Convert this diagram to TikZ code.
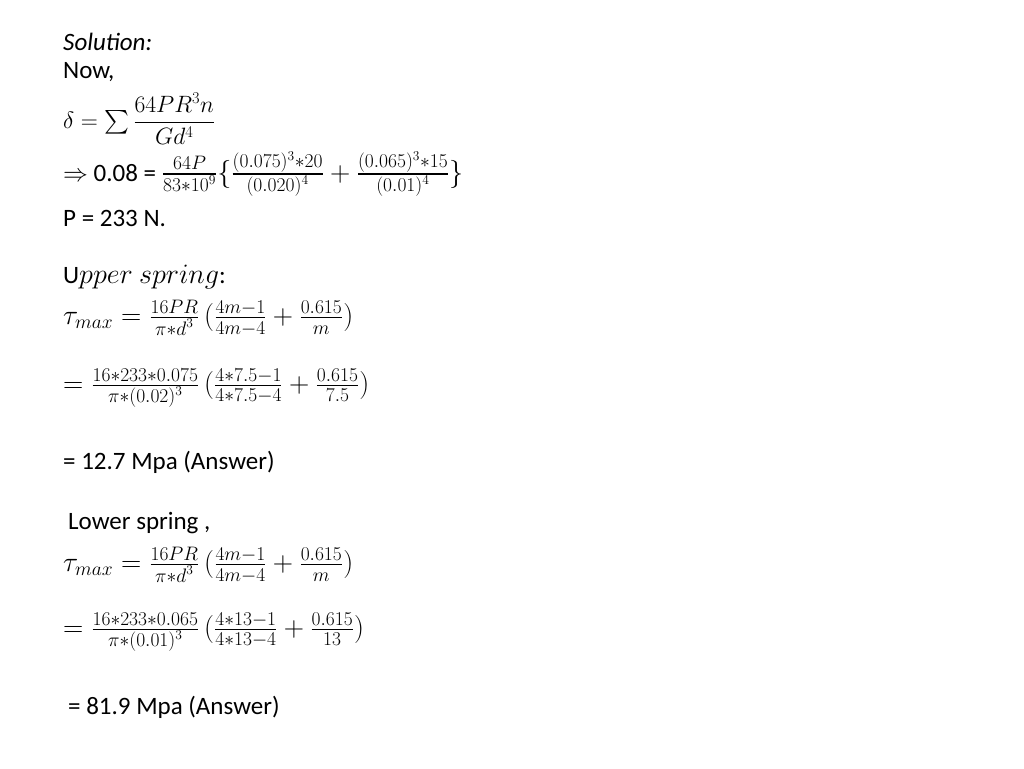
\documentclass[tikz,border=0pt]{standalone}
\usepackage{amsmath}
\usepackage{graphicx}
\usepackage{fontspec}
\setmainfont{Carlito}
\newcommand{\smf}[2]{\frac{\scriptstyle #1}{\scriptstyle #2}}
\newcommand{\MM}[1]{\scalebox{1.13}{$#1$}}
\begin{document}
\begin{tikzpicture}[x=1pt,y=1pt,t/.style={anchor=west,inner sep=0pt,font=\fontsize{25}{29}\selectfont}]
\useasboundingbox[fill=white] (0,0) rectangle (1024,-768);
\node[t] (a) at (63,-42) {\textit{Solution:}};
\node[t] (b) at (63,-72) {Now,};
\node[t] (c) at (63,-119) {\scalebox{0.95}{$\delta=\sum\dfrac{64PR^3n}{Gd^4}$}};
\node[t] (d) at (63,-174) {$\Rightarrow$ 0.08 = \MM{\smf{64P}{83*10^9}\{\smf{(0.075)^3*20}{(0.020)^4}+\smf{(0.065)^3*15}{(0.01)^4}\}}};
\node[t] (e) at (63,-218) {P = 233 N.};
\node[t] (f) at (63,-277) {U\MM{pper\ spring}:};
\node[t] (g) at (63,-318) {\MM{\tau_{max}=\smf{16PR}{\pi*d^3}\,(\smf{4m-1}{4m-4}+\smf{0.615}{m})}};
\node[t] (h) at (63,-388) {\MM{=\smf{16*233*0.075}{\pi*(0.02)^3}\,(\smf{4*7.5-1}{4*7.5-4}+\smf{0.615}{7.5})}};
\node[t] (i) at (63,-462) {= 12.7 Mpa (Answer)};
\node[t] (j) at (68,-523) {Lower spring ,};
\node[t] (k) at (63,-565) {\MM{\tau_{max}=\smf{16PR}{\pi*d^3}\,(\smf{4m-1}{4m-4}+\smf{0.615}{m})}};
\node[t] (l) at (63,-632) {\MM{=\smf{16*233*0.065}{\pi*(0.01)^3}\,(\smf{4*13-1}{4*13-4}+\smf{0.615}{13})}};
\node[t] (m) at (68,-707) {= 81.9 Mpa (Answer)};
\end{tikzpicture}
\end{document}
